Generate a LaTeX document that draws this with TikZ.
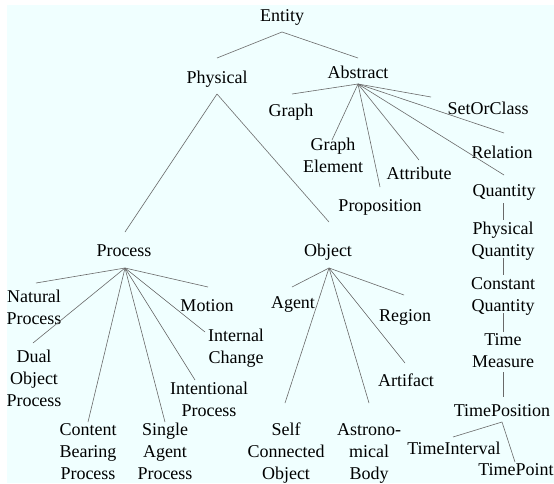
\documentclass[tikz,border=0pt]{standalone}
\usepackage{fontspec}
\setmainfont{Liberation Serif}
\definecolor{bgc}{RGB}{240,255,255}
\definecolor{edgec}{RGB}{105,105,105}
\begin{document}
\begin{tikzpicture}[x=1pt,y=-1pt,
  lbl/.style={align=center,inner sep=0pt,outer sep=0pt,
    font=\fontsize{18}{22}\selectfont,yshift=-1.6pt,
    execute at begin node=\strut,execute at end node=\strut},
  edge/.style={draw=edgec,line width=0.6pt}]
\useasboundingbox (0,0) rectangle (554,483);
\fill[bgc] (7,5) rectangle (554,483);
% nodes
\node[lbl] (entity) at (282,15) {Entity};
\node[lbl] (physical) at (217,77) {Physical};
\node[lbl] (abstract) at (358,72) {Abstract};
\node[lbl] (graph) at (291,110) {Graph};
\node[lbl] (graphel) at (333,157) {Graph\\Element};
\node[lbl] (proposition) at (380,205) {Proposition};
\node[lbl] (attribute) at (419,173) {Attribute};
\node[lbl] (setorclass) at (488,108) {SetOrClass};
\node[lbl] (relation) at (502,152) {Relation};
\node[lbl] (quantity) at (504,190) {Quantity};
\node[lbl] (physq) at (503,241) {Physical\\Quantity};
\node[lbl] (constq) at (503,296) {Constant\\Quantity};
\node[lbl] (timem) at (503,352) {Time\\Measure};
\node[lbl] (timepos) at (502,410) {TimePosition};
\node[lbl] (timeint) at (454,448) {TimeInterval};
\node[lbl] (timepoint) at (516,469) {TimePoint};
\node[lbl] (process) at (124,250) {Process};
\node[lbl] (natural) at (34,309) {Natural\\Process};
\node[lbl] (dual) at (34,380) {Dual\\Object\\Process};
\node[lbl] (content) at (88,453) {Content\\Bearing\\Process};
\node[lbl] (single) at (165,453) {Single\\Agent\\Process};
\node[lbl] (intentional) at (209,401) {Intentional\\Process};
\node[lbl] (internal) at (236,348) {Internal\\Change};
\node[lbl] (motion) at (207,305) {Motion};
\node[lbl] (object) at (328,250) {Object};
\node[lbl] (agent) at (293,302) {Agent};
\node[lbl] (selfc) at (286,453) {Self\\Connected\\Object};
\node[lbl] (astro) at (369,453) {Astrono-\\mical\\Body};
\node[lbl] (artifact) at (406,380) {Artifact};
\node[lbl] (region) at (405,315) {Region};
% connector points
\coordinate (entity-b) at (282,32);
\coordinate (physical-t) at (217,58);
\coordinate (physical-b) at (217,94);
\coordinate (abstract-t) at (358,58);
\coordinate (abstract-b) at (358,84);
\coordinate (graph-t) at (292,94);
\coordinate (graphel-t) at (332,140);
\coordinate (proposition-t) at (380,187);
\coordinate (attribute-t) at (419,160);
\coordinate (setorclass-t) at (431,97);
\coordinate (relation-t) at (504,133);
\coordinate (quantity-t) at (504,175);
\coordinate (quantity-b) at (503,203);
\coordinate (physq-t) at (503,220);
\coordinate (physq-b) at (503,258);
\coordinate (constq-t) at (503,275);
\coordinate (constq-b) at (503,313);
\coordinate (timem-t) at (503,332);
\coordinate (timem-b) at (503,372);
\coordinate (timepos-t) at (503,397);
\coordinate (timepos-b) at (502,422);
\coordinate (timeint-t) at (453,437);
\coordinate (timepoint-t) at (515,462);
\coordinate (process-t) at (125,232);
\coordinate (process-b) at (125,268);
\coordinate (natural-t) at (36,283);
\coordinate (dual-t) at (33,343);
\coordinate (content-t) at (88,422);
\coordinate (single-t) at (165,422);
\coordinate (intentional-t) at (195,380);
\coordinate (internal-t) at (205,332);
\coordinate (motion-t) at (208,287);
\coordinate (object-t) at (329,222);
\coordinate (object-b) at (329,268);
\coordinate (agent-t) at (292,287);
\coordinate (selfc-t) at (285,403);
\coordinate (astro-t) at (369,403);
\coordinate (artifact-t) at (405,363);
\coordinate (region-t) at (404,295);
% connectors
\path[edge] (entity-b) -- (physical-t);
\path[edge] (entity-b) -- (abstract-t);
\path[edge] (physical-b) -- (process-t);
\path[edge] (physical-b) -- (object-t);
\foreach \c in {graph,graphel,proposition,attribute,setorclass,relation,quantity}
  \path[edge] (abstract-b) -- (\c-t);
\path[edge] (quantity-b) -- (physq-t);
\path[edge] (physq-b) -- (constq-t);
\path[edge] (constq-b) -- (timem-t);
\path[edge] (timem-b) -- (timepos-t);
\path[edge] (timepos-b) -- (timeint-t);
\path[edge] (timepos-b) -- (timepoint-t);
\foreach \c in {natural,dual,content,single,intentional,internal,motion}
  \path[edge] (process-b) -- (\c-t);
\foreach \c in {agent,selfc,astro,artifact,region}
  \path[edge] (object-b) -- (\c-t);
\end{tikzpicture}
\end{document}
